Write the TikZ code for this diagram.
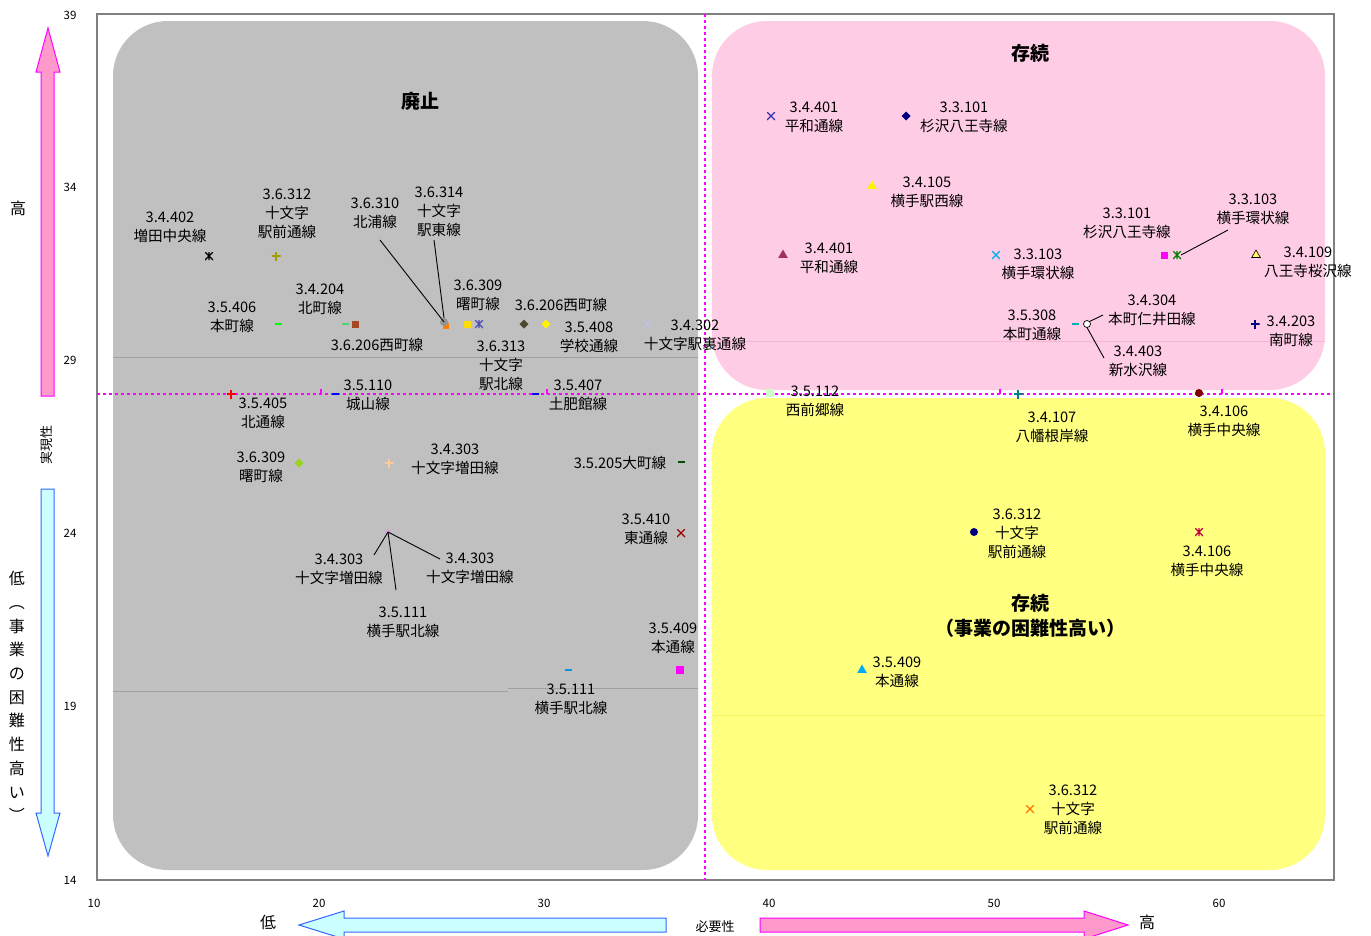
\documentclass[tikz,border=0pt]{standalone}
\usepackage{fontspec}
\setmainfont{Noto Sans CJK JP}
\usetikzlibrary{shapes.geometric}
\definecolor{boxgray}{HTML}{C0C0C0}
\definecolor{boxpink}{HTML}{FFCCE5}
\definecolor{boxyellow}{HTML}{FFFF80}
\definecolor{arrpink}{HTML}{FF99CC}
\definecolor{arrcyan}{HTML}{CCFFFF}
\definecolor{arrblue}{HTML}{3366FF}
\definecolor{framegray}{HTML}{808080}
\definecolor{mag}{HTML}{FF00FF}
\definecolor{faintpink}{HTML}{F5B5D5}
\definecolor{faintyellow}{HTML}{F0F060}
\tikzset{
  lab/.style={align=center, inner sep=0pt, font=\fontsize{14.6}{19}\selectfont},
  ttl/.style={align=center, inner sep=0pt, font=\fontsize{19}{25}\selectfont\bfseries},
  tick/.style={inner sep=0pt, font=\fontsize{11.5}{13}\selectfont},
  ax/.style={inner sep=0pt, font=\fontsize{16}{18}\selectfont},
  leader/.style={black, line width=0.9pt},
  mk/.style={inner sep=0pt, outer sep=0pt, minimum size=8pt},
  msq/.style={mk, rectangle, fill=#1, minimum size=7pt},
  mdia/.style={mk, diamond, fill=#1, minimum size=9pt},
  mtri/.style={mk, regular polygon, regular polygon sides=3, fill=#1, minimum size=11pt},
  mcirc/.style={mk, circle, fill=#1, minimum size=7pt},
  mdash/.style={inner sep=0pt, outer sep=0pt, rectangle, minimum width=7pt, minimum height=2.6pt, fill=#1},
  mplus/.style={mk, minimum size=9pt, path picture={\draw[#1, line width=1.1pt]
     (path picture bounding box.north) -- (path picture bounding box.south)
     (path picture bounding box.west) -- (path picture bounding box.east);}},
  mcross/.style={mk, minimum size=8pt, path picture={\draw[#1, line width=1.1pt]
     (path picture bounding box.north west) -- (path picture bounding box.south east)
     (path picture bounding box.south west) -- (path picture bounding box.north east);}},
  mast/.style={mk, minimum size=8pt, path picture={\draw[#1, line width=1.1pt]
     (path picture bounding box.north west) -- (path picture bounding box.south east)
     (path picture bounding box.south west) -- (path picture bounding box.north east)
     (path picture bounding box.north) -- (path picture bounding box.south);}},
  magdash/.style={mag, line width=1.8pt, dash pattern=on 3pt off 3pt},
}
\begin{document}
\begin{tikzpicture}[x=1pt,y=-1pt]
\useasboundingbox (0,0) rectangle (1371,935);
\clip (0,0) rectangle (1371,935);
\fill[white] (0,0) rectangle (1371,935);
% plot frame
\draw[framegray, line width=1.2pt] (97,14) rectangle (1334,880);
% quadrant boxes
\fill[boxgray] (113,21) [rounded corners=55pt] rectangle (698,870);
\fill[boxpink] (712,21) [rounded corners=55pt] rectangle (1325,390);
\fill[boxyellow] (712,398) [rounded corners=55pt] rectangle (1325,870);
% faint grid remnants
\draw[gray!75, line width=0.8pt] (113,357) -- (698,357);
\draw[gray!75, line width=0.8pt] (113,691) -- (508,691);
\draw[gray!75, line width=0.8pt] (508,688) -- (698,688);
\draw[faintpink, line width=0.8pt] (712,341) -- (1325,341);
\draw[faintyellow, line width=0.6pt] (712,715) -- (1325,715);
% dashed separators
\draw[magdash] (97,394) -- (1334,394);
\draw[magdash] (705,14) -- (705,880);
\foreach \tx in {321,547,1000,1222} \draw[mag, line width=1.2pt] (\tx,389) -- (\tx,394);
% tick labels
\node[tick] (y39) at (70,15) {39};
\node[tick] (y34) at (70,187) {34};
\node[tick] (y29) at (70,360) {29};
\node[tick] (y24) at (70,533) {24};
\node[tick] (y19) at (70,706) {19};
\node[tick] (y14) at (70,880) {14};
\node[tick] (x10) at (94,903) {10};
\node[tick] (x20) at (319,903) {20};
\node[tick] (x30) at (544,903) {30};
\node[tick] (x40) at (769,903) {40};
\node[tick] (x50) at (994,903) {50};
\node[tick] (x60) at (1219,903) {60};
% axis arrows
\draw[mag, fill=arrpink, line width=1pt] (41,396) -- (41,72) -- (36,72) -- (48,28) -- (60,72) -- (54,72) -- (54,396) -- cycle;
\draw[arrblue, fill=arrcyan, line width=1pt] (41,489) -- (41,813) -- (36,813) -- (48,856) -- (60,813) -- (54,813) -- (54,489) -- cycle;
\draw[arrblue, fill=arrcyan, line width=1pt] (666,918) -- (344,918) -- (344,911) -- (299,925) -- (344,939) -- (344,932) -- (666,932) -- cycle;
\draw[mag, fill=arrpink, line width=1pt] (760,918) -- (1084,918) -- (1084,911) -- (1128,925) -- (1084,939) -- (1084,932) -- (760,932) -- cycle;
% axis texts
\node[ax] (ahigh) at (18,208) {高};
\node[inner sep=0pt, font=\fontsize{13}{15}\selectfont, rotate=90] (ayname) at (47,445) {実現性};
\node[ax, align=center, font=\fontsize{16}{23.7}\selectfont] (alow) at (17,696.5) {低\\︵\\事\\業\\の\\困\\難\\性\\高\\い\\︶};
\node[ax] (xlow) at (268,922) {低};
\node[inner sep=0pt, font=\fontsize{13}{15}\selectfont] (xname) at (715,927) {必要性};
\node[ax] (xhigh) at (1147,922) {高};
% titles
\node[ttl] (t1) at (420,101) {廃止};
\node[ttl] (t2) at (1030,53) {存続};
\node[ttl] (t3) at (1030,616) {存続\\（事業の困難性高い）};
% ---------- gray region markers ----------
\node[mast=black] (m1) at (209,256) {};
\node[mplus={olive!80!yellow}] (m2) at (276,256) {};
\node[msq={orange}, minimum size=6pt] (m3b) at (446,326) {};
\node[mcirc={gray!85}, minimum size=8pt] (m3) at (444,322) {};
\node[mdash={green!50!teal!70}] (m4a) at (345,324) {};
\node[msq={brown!70!red!80!black}] (m4b) at (355,324) {};
\node[mdash={green}] (m5) at (278,324) {};
\node[msq={yellow!80!orange}] (m6a) at (467,324) {};
\node[mast={blue!40!gray}] (m6b) at (479,324) {};
\node[mdia={olive!40!black}] (m7a) at (524,324) {};
\node[mdia={yellow}] (m7b) at (546,324) {};
\node[mcross={cyan!25!blue!25}] (m8) at (647,324) {};
\node[mplus={red}] (m9) at (231,394) {};
\node[mdash={blue}] (m10) at (335,394) {};
\node[mdash={blue}] (m11) at (535,394) {};
\node[mdia={yellow!60!green}] (m12) at (299,463) {};
\node[mplus={orange!40}] (m13) at (389,463) {};
\node[mdash={green!30!black}] (m14) at (681,462) {};
\node[mcross={red!60!black}] (m15) at (681,533) {};
\node[mcirc={violet!35}, minimum size=6pt] (m16) at (388,532) {};
\node[msq={mag}, minimum size=8pt] (m17) at (680,670) {};
\node[mdash={cyan!80!blue}] (m18) at (568,670) {};
% ---------- gray region labels ----------
\node[lab] (l1) at (170,227.5) {3.4.402\\増田中央線};
\node[lab] (l2) at (287,214) {3.6.312\\十文字\\駅前通線};
\node[lab] (l3) at (375,213) {3.6.310\\北浦線};
\node[lab] (l4) at (439,212) {3.6.314\\十文字\\駅東線};
\node[lab] (l5) at (320,299) {3.4.204\\北町線};
\node[lab] (l6) at (232,317.5) {3.5.406\\本町線};
\node[lab] (l7) at (377,345) {3.6.206西町線};
\node[lab] (l8) at (478,295.5) {3.6.309\\曙町線};
\node[lab] (l9) at (561,305) {3.6.206西町線};
\node[lab] (l10) at (589,337.5) {3.5.408\\学校通線};
\node[lab] (l11) at (501,366) {3.6.313\\十文字\\駅北線};
\node[lab] (l12) at (695,335.5) {3.4.302\\十文字駅裏通線};
\node[lab] (l13) at (263,413) {3.5.405\\北通線};
\node[lab] (l14) at (368,395) {3.5.110\\城山線};
\node[lab] (l15) at (578,395) {3.5.407\\土肥館線};
\node[lab] (l16) at (261,467.5) {3.6.309\\曙町線};
\node[lab] (l17) at (455,459.5) {3.4.303\\十文字増田線};
\node[lab] (l18) at (620,463) {3.5.205大町線};
\node[lab] (l19) at (646,529.5) {3.5.410\\東通線};
\node[lab] (l20) at (339,569.5) {3.4.303\\十文字増田線};
\node[lab] (l21) at (470,568.5) {3.4.303\\十文字増田線};
\node[lab] (l22) at (403,622.5) {3.5.111\\横手駅北線};
\node[lab] (l23) at (673,638.5) {3.5.409\\本通線};
\node[lab] (l24) at (571,699) {3.5.111\\横手駅北線};
% leaders in gray region
\coordinate (c3) at (380,240);
\coordinate (c4) at (434,240);
\coordinate (c20) at (374,555);
\coordinate (c21) at (440,559);
\coordinate (c22) at (396,590);
\draw[leader] (c3) -- (m3.center);
\draw[leader] (c4) -- (m3.north);
\draw[leader] (m16.center) -- (c20);
\draw[leader] (m16.center) -- (c21);
\draw[leader] (m16.center) -- (c22);
% ---------- pink region ----------
\node[mcross={blue!60!black!80}] (n1) at (771,116) {};
\node[mdia={blue!50!black}] (n2) at (906,116) {};
\node[mtri={yellow}] (n3) at (872,186) {};
\node[mtri={purple!70!black!80}] (n4) at (783,255) {};
\node[mcross={cyan}] (n5) at (996,255) {};
\node[msq={mag}] (n6) at (1164,255) {};
\node[mast={green!50!black}] (n7) at (1177,255) {};
\node[mtri={yellow!60}, draw=black, line width=0.6pt, minimum size=10pt] (n8) at (1256,255) {};
\node[mdash={teal!60!cyan}] (n9) at (1075,324) {};
\node[mcirc={white}, draw=black, line width=0.7pt] (n10) at (1087,324) {};
\node[mplus={blue!50!black}] (n11) at (1255,324) {};
\node[msq={green!20}, minimum size=8pt] (n12) at (770,393) {};
\node[mplus={teal}] (n13) at (1018,394) {};
\node[mcirc={red!50!black}, minimum size=8pt] (n14) at (1199,393) {};
\node[lab] (p1) at (814,117.5) {3.4.401\\平和通線};
\node[lab] (p2) at (964,117.5) {3.3.101\\杉沢八王寺線};
\node[lab] (p3) at (927,192.5) {3.4.105\\横手駅西線};
\node[lab] (p4) at (829,258.5) {3.4.401\\平和通線};
\node[lab] (p5) at (1038,264.5) {3.3.103\\横手環状線};
\node[lab] (p6) at (1127,223.5) {3.3.101\\杉沢八王寺線};
\node[lab] (p7) at (1253,209) {3.3.103\\横手環状線};
\node[lab] (p8) at (1308,262.5) {3.4.109\\八王寺桜沢線};
\node[lab] (p9) at (1032,325.5) {3.5.308\\本町通線};
\node[lab] (p10) at (1152,310.5) {3.4.304\\本町仁井田線};
\node[lab] (p11) at (1138,361.5) {3.4.403\\新水沢線};
\node[lab] (p12) at (1291,331.5) {3.4.203\\南町線};
\node[lab] (p13) at (815,401) {3.5.112\\西前郷線};
\node[lab] (p14) at (1052,427.5) {3.4.107\\八幡根岸線};
\node[lab] (p15) at (1224,421.5) {3.4.106\\横手中央線};
\coordinate (c7) at (1228,230);
\coordinate (c10) at (1103,315);
\coordinate (c11) at (1104,358);
\draw[leader] (n7.east) -- (c7);
\draw[leader] (n10.north east) -- (c10);
\draw[leader] (n10.south) -- (c11);
% ---------- yellow region ----------
\node[mcirc={blue!50!black}, minimum size=8pt] (o1) at (974,532) {};
\node[mast={purple}] (o2) at (1199,532) {};
\node[mtri={cyan}] (o3) at (862,670) {};
\node[mcross={orange!90!red}] (o4) at (1030,809) {};
\node[lab] (y1) at (1017,534) {3.6.312\\十文字\\駅前通線};
\node[lab] (y2) at (1207,561.5) {3.4.106\\横手中央線};
\node[lab] (y3) at (897,672.5) {3.5.409\\本通線};
\node[lab] (y4) at (1073,810) {3.6.312\\十文字\\駅前通線};
\end{tikzpicture}
\end{document}
